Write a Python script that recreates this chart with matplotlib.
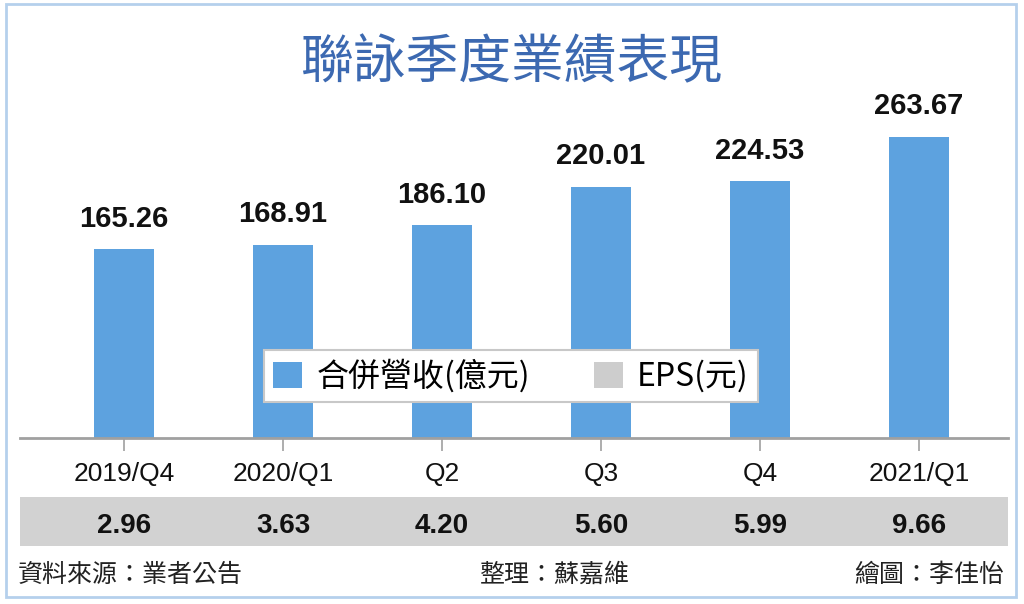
import matplotlib
matplotlib.use("Agg")
import matplotlib.pyplot as plt
from matplotlib.patches import Rectangle, Patch
from matplotlib import transforms

CJK = 'Noto Sans CJK TC'
NUM = 'Liberation Sans'

# ---- data ----
categories = ["2019/Q4", "2020/Q1", "Q2", "Q3", "Q4", "2021/Q1"]
revenue = [165.26, 168.91, 186.10, 220.01, 224.53, 263.67]
eps = [2.96, 3.63, 4.20, 5.60, 5.99, 9.66]
title = "聯詠季度業績表現"
legend_labels = ["合併營收(億元)", "EPS(元)"]
footer_left = "資料來源：業者公告"
footer_mid = "整理：蘇嘉維"
footer_right = "繪圖：李佳怡"

BLUE = '#5DA2DF'
GRAY = '#CDCDCD'
TITLE_C = '#3C69B1'

W, H = 1024, 604
fig = plt.figure(figsize=(W / 100, H / 100), dpi=100)
fig.patch.set_facecolor('white')

def fx(px):
    return px / W

def fy(py):
    return 1 - py / H

# outer frame
fig.patches.append(Rectangle((fx(6), fy(597)), fx(1016) - fx(6), fy(4) - fy(597),
                             transform=fig.transFigure, fill=False,
                             edgecolor='#B5D0EC', lw=2))

# axes
ax_left, ax_right = 20, 1008
base_y, top_y = 438, 61
ax = fig.add_axes([fx(ax_left), fy(base_y), fx(ax_right) - fx(ax_left), fy(top_y) - fy(base_y)])
ax.set_facecolor('none')
x = list(range(len(categories)))
ax.bar(x, revenue, width=0.38, color=BLUE, zorder=2)
ax.set_ylim(0, 330)
ax.set_xlim(-0.655, 5.56)
for s in ['top', 'left', 'right']:
    ax.spines[s].set_visible(False)
ax.spines['bottom'].set_color('#A0A0A0')
ax.spines['bottom'].set_linewidth(2)
ax.set_yticks([])
ax.set_xticks(x)
ax.set_xticklabels(categories, fontfamily=NUM, fontsize=19, color='#111111')
ax.tick_params(axis='x', length=9, width=1.2, color='#A0A0A0', pad=8)

for xi, v in zip(x, revenue):
    ax.annotate(f"{v:.2f}", (xi, v), xytext=(0, 12), textcoords='offset points',
                ha='center', va='bottom', fontfamily=NUM,
                fontweight='bold', fontsize=21, color='#111111')

# EPS band
band = Rectangle((fx(20), fy(546)), fx(1008) - fx(20), fy(497) - fy(546),
                 transform=fig.transFigure, facecolor='#D2D2D2', edgecolor='none',
                 zorder=0, clip_on=False)
ax.add_artist(band)
trans = transforms.blended_transform_factory(ax.transData, fig.transFigure)
for xi, v in zip(x, eps):
    ax.text(xi, fy(526), f"{v:.2f}", transform=trans, ha='center', va='center',
            fontfamily=NUM, fontweight='bold', fontsize=20,
            color='#111111', clip_on=False, zorder=3)

# legend
handles = [Patch(facecolor=BLUE, edgecolor='none'), Patch(facecolor=GRAY, edgecolor='none')]
leg = ax.legend(handles, legend_labels, loc='center', bbox_to_anchor=(fx(511), fy(376)),
                bbox_transform=fig.transFigure, ncol=2, frameon=True, fancybox=False,
                framealpha=1, prop={'family': [CJK, 'DejaVu Sans'], 'size': 23},
                handlelength=0.9, handleheight=0.9, handletextpad=0.45,
                columnspacing=2.0, borderpad=0.3, borderaxespad=0)
leg.get_frame().set_edgecolor('#C8C8C8')
leg.get_frame().set_linewidth(1.5)
leg.get_frame().set_facecolor('white')
leg.set_zorder(5)

# title
fig.text(fx(511), fy(63), title, ha='center', va='center', fontfamily=[CJK],
         fontweight='medium', fontsize=38, color=TITLE_C)

# footer
fkw = dict(fontfamily=[CJK], fontsize=18, color='#222222', va='center')
fig.text(fx(18), fy(575), footer_left, ha='left', **fkw)
fig.text(fx(554), fy(575), footer_mid, ha='center', **fkw)
fig.text(fx(1004), fy(575), footer_right, ha='right', **fkw)

fig.savefig('out.png', dpi=100, facecolor='white')
